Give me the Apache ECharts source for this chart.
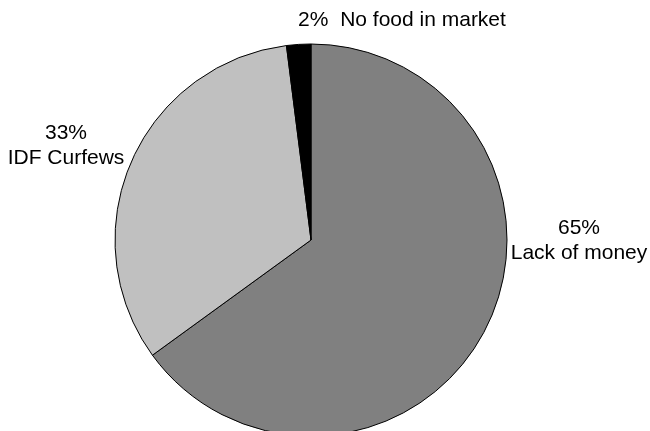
<!DOCTYPE html>
<html>
<head>
<meta charset="utf-8">
<script src="https://cdn.jsdelivr.net/npm/echarts@6/dist/echarts.min.js"></script>
<style>
  html, body { margin: 0; padding: 0; background: #fff; }
  #chart { width: 650px; height: 431px; }
</style>
</head>
<body>
<div id="chart"></div>
<script>
// Reasons for food shortage (share of respondents, %)
const categories = ['Lack of money', 'IDF Curfews', 'No food in market'];
const shares = [65, 33, 2];
const sliceColors = ['#808080', '#c0c0c0', '#000000'];

// Label anchor points (centre of each label block) and line layout
const labelAnchors = [[579, 241], [66, 146], [402, 20]];
const labelSingleLine = [false, false, true];

const chart = echarts.init(document.getElementById('chart'), null, { renderer: 'canvas' });

chart.setOption({
  animation: false,
  backgroundColor: '#ffffff',
  series: [{
    type: 'pie',
    center: [311, 240],
    radius: 196,
    startAngle: 90,
    clockwise: true,
    silent: true,
    data: categories.map((name, i) => ({
      name,
      value: shares[i],
      itemStyle: { color: sliceColors[i] }
    })),
    itemStyle: { borderColor: '#000', borderWidth: 1 },
    label: {
      show: true,
      position: 'outside',
      color: '#000',
      fontFamily: 'Liberation Sans, Arial, sans-serif',
      fontSize: 21,
      lineHeight: 25,
      align: 'center',
      overflow: 'none',
      width: 220,
      formatter: p => labelSingleLine[p.dataIndex]
        ? p.value + '%  ' + p.name
        : p.value + '%\n' + p.name
    },
    labelLine: { show: false },
    labelLayout: p => ({
      x: labelAnchors[p.dataIndex][0],
      y: labelAnchors[p.dataIndex][1],
      align: 'center',
      verticalAlign: 'middle'
    })
  }]
});
</script>
</body>
</html>
